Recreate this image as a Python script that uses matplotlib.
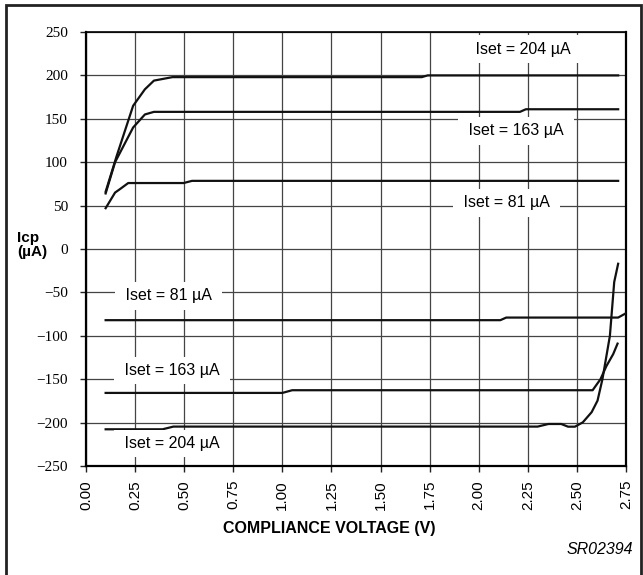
import matplotlib.pyplot as plt
from matplotlib.patches import Rectangle

plt.rcParams['font.family'] = ['Liberation Sans', 'DejaVu Sans']

# ============================
# DATA
# ============================

pos204_v = [0.10, 0.156, 0.24, 0.30, 0.346, 0.44, 1.71, 1.74, 2.71]
pos204_i = [66, 107, 165, 184, 194, 198, 198, 200, 200]

pos163_v = [0.10, 0.148, 0.24, 0.30, 0.346, 2.21, 2.24, 2.71]
pos163_i = [64, 100, 140, 155, 158, 158, 161, 161]

pos81_v = [0.10, 0.148, 0.173, 0.215, 0.497, 0.54, 2.71]
pos81_i = [47, 65, 69, 76, 76, 78.5, 78.5]

neg81_v = [0.10, 2.11, 2.14, 2.71, 2.75]
neg81_i = [-82, -82, -79, -79, -74]

neg163_v = [0.10, 1.00, 1.05, 2.58, 2.62, 2.65, 2.685, 2.707]
neg163_i = [-165.8, -165.8, -162.7, -162.7, -150, -135, -121, -109]

neg204_v = [0.10, 0.39, 0.445, 2.30, 2.355, 2.42, 2.455, 2.49, 2.53,
            2.575, 2.605, 2.63, 2.668, 2.69, 2.71]
neg204_i = [-207.7, -207.7, -204.6, -204.6, -201.6, -201.6, -204.7, -204.7,
            -199.7, -188, -174.7, -150, -100, -38, -17]

curves = [
    (pos204_v, pos204_i),
    (pos163_v, pos163_i),
    (pos81_v, pos81_i),
    (neg81_v, neg81_i),
    (neg163_v, neg163_i),
    (neg204_v, neg204_i),
]

labels = ['Iset = 204 µA', 'Iset = 163 µA', 'Iset = 81 µA',
          'Iset = 81 µA', 'Iset = 163 µA', 'Iset = 204 µA']
label_v = [2.225, 2.19, 2.14, 0.42, 0.436, 0.436]
label_i = [230, 136, 53, -54, -140, -224]

x_ticks = [0.00, 0.25, 0.50, 0.75, 1.00, 1.25, 1.50, 1.75, 2.00, 2.25, 2.50, 2.75]
y_ticks = [-250, -200, -150, -100, -50, 0, 50, 100, 150, 200, 250]

# ============================
# FIGURE
# ============================

fig = plt.figure(figsize=(6.43, 5.75), dpi=100)
ax = fig.add_axes([86 / 643, 1 - 466 / 575, 540 / 643, 434 / 575])

for v, i in curves:
    ax.plot(v, i, color='#111111', linewidth=1.6, zorder=3,
            solid_joinstyle='round')

# labels sit on white boxes that break the grid lines
for txt, v, i in zip(labels, label_v, label_i):
    ax.text(v, i, ' ' + txt + ' ', ha='center', va='center', fontsize=11.5,
            zorder=4,
            bbox=dict(boxstyle='square,pad=0.4', facecolor='white',
                      edgecolor='none'))

ax.set_xlim(0, 2.75)
ax.set_ylim(-250, 250)

ax.set_xticks(x_ticks)
ax.set_xticklabels(['%.2f' % t for t in x_ticks], rotation=90, fontsize=11)
ax.set_yticks(y_ticks)
ax.set_yticklabels([('\u2212%d' % -t) if t < 0 else '%d' % t for t in y_ticks],
                   fontsize=11, family='Liberation Serif')
ax.tick_params(axis='both', direction='out', length=4, width=1,
               color='#222222')
ax.tick_params(axis='x', pad=6)
ax.tick_params(axis='y', pad=9)

ax.grid(True, color='#444444', linewidth=0.9, zorder=1)
ax.set_axisbelow(True)

for side in ['left', 'bottom', 'right']:
    ax.spines[side].set_linewidth(1.6)
ax.spines['top'].set_linewidth(1.2)

fig.text(329 / 643, 1 - 528 / 575, 'COMPLIANCE VOLTAGE (V)', fontsize=11.5,
         fontweight='bold', ha='center', va='center')

fig.text(17 / 643, 1 - 245 / 575, 'Icp\n(µA)', fontsize=11, fontweight='bold',
         ha='left', va='center', linespacing=1.0)

fig.text(633 / 643, 1 - 550 / 575, 'SR02394', fontsize=11.5, style='italic',
         ha='right', va='center')

# outer frame
fig.patches.append(Rectangle((6 / 643, -0.01), 635 / 643, 1 - 5 / 575 + 0.01,
                             transform=fig.transFigure, fill=False,
                             edgecolor='#222222', linewidth=2))

fig.savefig('out.png', dpi=100)
